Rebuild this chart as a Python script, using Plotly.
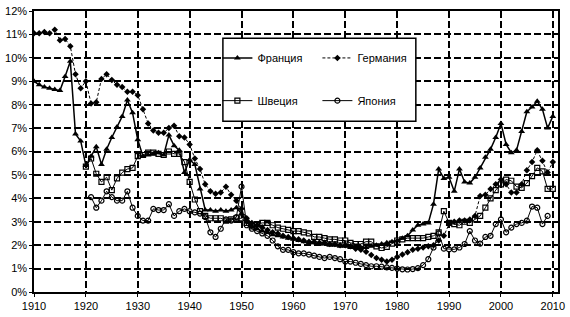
import plotly.graph_objects as go

# ---------------- data ----------------
years = list(range(1910, 2011))
france = [9.0, 8.85, 8.75, 8.7, 8.65, 8.6, 9.2, 9.85, 6.75, 6.45,
          5.4, 5.8, 6.2, 5.45, 6.1, 6.6, 7.05, 7.5, 8.2, 7.65,
          6.5, 5.8, 5.85, 5.9, 5.95, 5.85, 6.7, 6.25, 6.05, 5.1,
          5.65, 5.45, 4.4, 3.5, 3.5, 3.45, 3.5, 3.45, 3.5, 3.6,
          3.35, 3.0, 2.8, 2.7, 2.6, 2.55, 2.45, 2.4, 2.35, 2.3,
          2.25, 2.2, 2.15, 2.1, 2.1, 2.05, 2.05, 2.0, 2.0, 1.95,
          1.95, 1.9, 1.9, 1.9, 1.9, 1.95, 2.0, 2.05, 2.1, 2.15,
          2.2, 2.3, 2.4, 2.65, 2.85, 2.9, 2.95, 3.75, 5.25, 4.85,
          4.9, 4.3, 5.25, 4.7, 4.65, 4.9, 5.3, 5.75, 6.1, 6.6,
          7.2, 6.3, 5.95, 6.05, 6.85, 7.7, 7.9, 8.15, 7.8, 7.0,
          7.5]
germany = [11.05, 11.05, 11.1, 11.05, 11.2, 10.75, 10.8, 10.5, 9.3, 8.7,
           9.0, 8.05, 8.1, 9.1, 9.3, 9.05, 8.85, 8.75, 8.55, 8.55,
           8.4, 7.8, 7.2, 6.9, 6.8, 6.8, 7.0, 7.1, 6.65, 6.6,
           6.3, 5.7, 5.25, 4.6, 4.3, 4.2, 4.25, 4.5, 4.15, 3.9,
           3.55, 3.15, 2.95, 2.85, 2.75, 2.65, 2.55, 2.5, 2.4, 2.35,
           2.3, 2.25, 2.2, 2.15, 2.15, 2.1, 2.1, 2.05, 2.05, 2.0,
           2.0, 1.95, 1.85, 1.8, 1.72, 1.58, 1.45, 1.38, 1.3, 1.38,
           1.5, 1.6, 1.7, 1.8, 1.85, 1.9, 1.95, 2.0, 2.2, 2.4,
           2.9, 3.0, 3.05, 3.05, 3.1, 3.25, 4.1, 4.15, 4.4, 4.6,
           4.8, 4.6, 4.25, 4.25, 4.6, 5.2, 5.55, 6.05, 5.6, 5.1,
           5.55]
sweden_years = list(range(1920, 2011))
sweden = [5.35, 5.7, 5.05, 4.7, 4.9, 4.35, 4.85, 5.1, 5.25, 5.3,
          5.8, 5.85, 5.95, 5.95, 5.9, 5.85, 6.0, 5.9, 5.9, 5.55,
          4.7, 3.95, 3.45, 3.25, 3.15, 3.15, 3.15, 3.05, 3.1, 3.15,
          3.15, 2.95, 2.8, 2.9, 2.95, 2.95, 2.85, 2.75, 2.7, 2.65,
          2.6, 2.6, 2.55, 2.5, 2.35, 2.35, 2.3, 2.25, 2.25, 2.2,
          2.2, 2.1, 2.05, 2.05, 2.15, 2.15, 1.95, 1.88, 1.93, 2.07,
          2.2, 2.25, 2.3, 2.3, 2.3, 2.3, 2.35, 2.4, 2.55, 3.45,
          2.95, 2.9, 2.85, 3.0, 2.95, 3.1, 3.25, 3.6, 4.0, 4.35,
          4.6, 4.8, 4.75, 4.5, 4.45, 4.65, 4.95, 5.3, 5.15, 4.4,
          4.4]
japan_years = list(range(1921, 2010))
japan = [4.05, 3.6, 3.9, 4.3, 4.05, 3.9, 3.9, 4.3, 3.6,
         3.25, 3.05, 3.05, 3.55, 3.5, 3.5, 3.75, 3.25, 3.45, 3.55,
         3.45, 3.4, 3.35, 3.2, 2.55, 2.35, 2.7, 3.1, 3.05, 3.2,
         4.5, 2.85, 2.7, 2.6, 2.5, 2.4, 2.2, 1.95, 1.8, 1.8,
         1.7, 1.65, 1.65, 1.6, 1.55, 1.5, 1.45, 1.5, 1.45, 1.4,
         1.3, 1.3, 1.25, 1.2, 1.15, 1.1, 1.1, 1.08, 1.05, 1.03,
         1.0, 0.97, 0.96, 0.98, 1.02, 1.15, 1.4, 1.9, 2.5, 1.85,
         1.82, 1.82, 1.9, 2.05, 2.6, 2.2, 2.07, 2.35, 2.4, 2.9,
         3.1, 2.55, 2.75, 2.9, 2.95, 3.05, 3.65, 3.6, 2.9, 3.25]
series_names = ["Франция", "Германия", "Швеция", "Япония"]
x_ticks = list(range(1910, 2011, 10))
x_tick_labels = [str(v) for v in x_ticks]
y_ticks = list(range(0, 13))
y_tick_labels = [f"{v}%" for v in y_ticks]

# ---------------- figure ----------------
INK = "#000000"
FONT = "Liberation Sans, Arial, sans-serif"

fig = go.Figure()
fig.add_trace(go.Scatter(
    x=years, y=france, name=series_names[0], mode="lines+markers",
    line=dict(color=INK, width=1.5),
    marker=dict(symbol="triangle-up", size=6, color=INK),
    legend="legend"))
fig.add_trace(go.Scatter(
    x=years, y=germany, name=series_names[1], mode="lines+markers",
    line=dict(color=INK, width=1, dash="3px,2px"),
    marker=dict(symbol="diamond", size=5, color=INK),
    legend="legend"))
fig.add_trace(go.Scatter(
    x=sweden_years, y=sweden, name=series_names[2], mode="lines+markers",
    line=dict(color=INK, width=1),
    marker=dict(symbol="square-open", size=5, color=INK, line=dict(width=1.2)),
    legend="legend2"))
fig.add_trace(go.Scatter(
    x=japan_years, y=japan, name=series_names[3], mode="lines+markers",
    line=dict(color=INK, width=1),
    marker=dict(symbol="circle-open", size=5, color=INK, line=dict(width=1.2)),
    legend="legend2"))

grid = dict(showgrid=True, gridcolor=INK, gridwidth=2, griddash="7px,3px")

fig.update_layout(
    width=570, height=317,
    margin=dict(l=33, r=10, t=5, b=24),
    paper_bgcolor="white", plot_bgcolor="white",
    font=dict(family=FONT, size=11, color=INK),
    xaxis=dict(range=[1910, 2011], tickvals=x_ticks, ticktext=x_tick_labels,
               showline=True, linecolor=INK, linewidth=1.5, mirror=True,
               ticks="outside", ticklen=3, tickcolor=INK, zeroline=False, **grid),
    yaxis=dict(range=[0, 12], tickvals=y_ticks, ticktext=y_tick_labels,
               showline=True, linecolor=INK, linewidth=1.5, mirror=True,
               ticks="outside", ticklen=3, tickcolor=INK, zeroline=False, **grid),
    legend=dict(x=0.35, y=0.833, xanchor="left", yanchor="middle",
                orientation="h", entrywidth=55, bgcolor="rgba(0,0,0,0)",
                font=dict(family=FONT, size=11, color=INK)),
    legend2=dict(x=0.35, y=0.681, xanchor="left", yanchor="middle",
                 orientation="h", entrywidth=55, bgcolor="rgba(0,0,0,0)",
                 font=dict(family=FONT, size=11, color=INK)),
    shapes=[dict(type="rect", xref="paper", yref="paper",
                 x0=0.3605, x1=0.7287, y0=0.6076, y1=0.9028,
                 line=dict(color=INK, width=1.5), fillcolor="white", layer="above")],
)

fig.write_html("out.html")
